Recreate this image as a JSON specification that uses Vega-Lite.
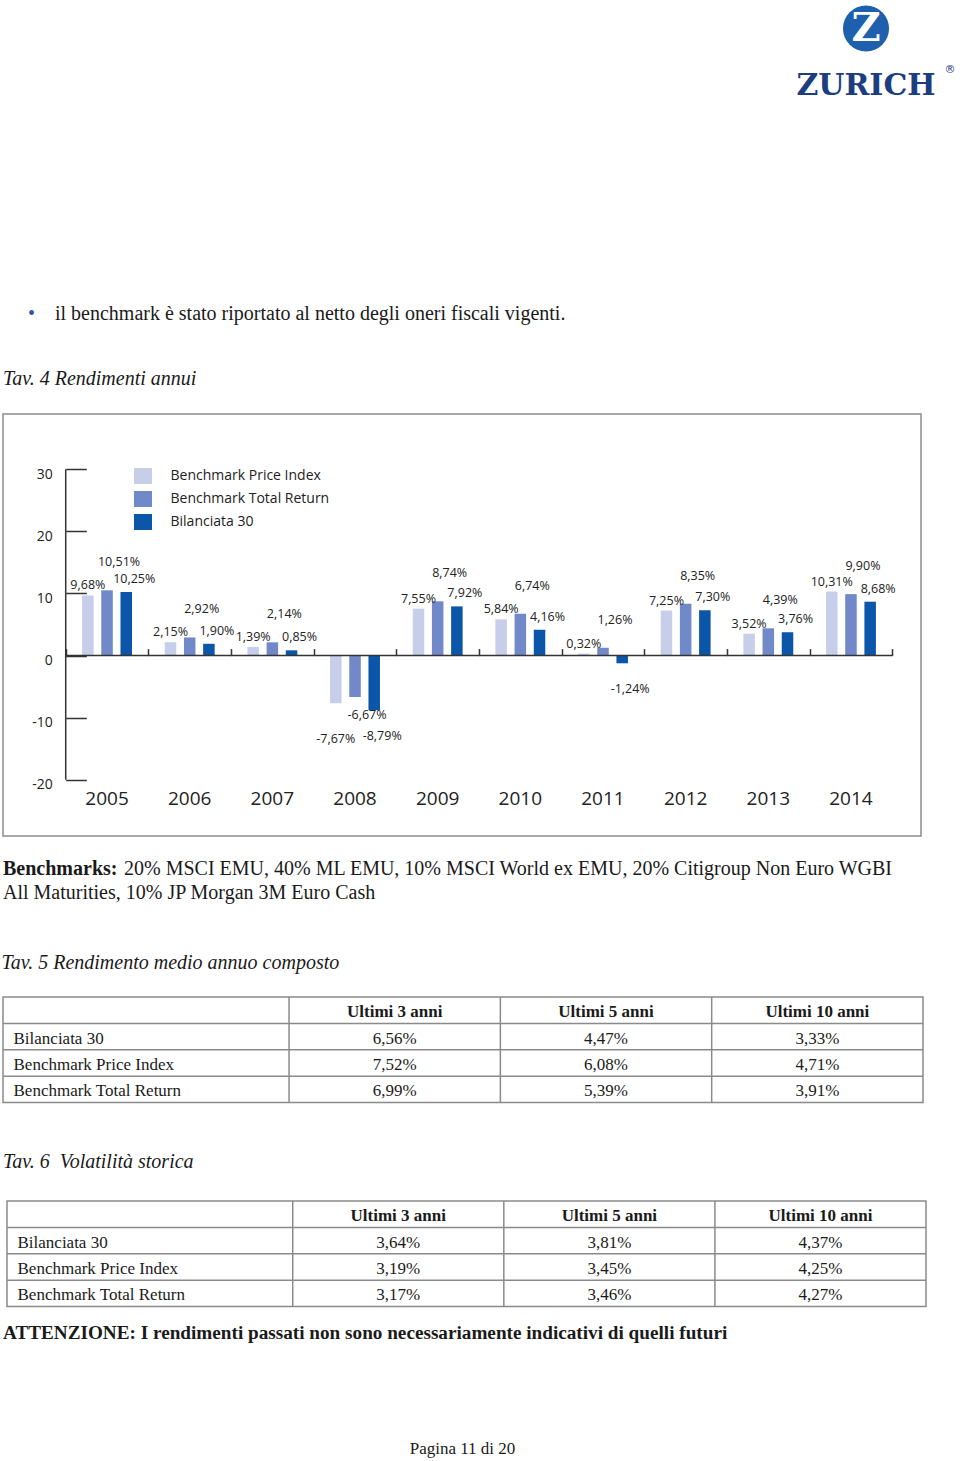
{
  "$schema": "https://vega.github.io/schema/vega-lite/v6.json",
  "background": "white",
  "padding": {"left": 1, "top": 0, "right": 0, "bottom": 0},
  "spacing": 0,
  "resolve": {"scale": {"color": "independent"}, "legend": {"color": "independent"}},
  "config": {
    "view": {"stroke": null},
    "font": "Liberation Serif",
    "title": {"font": "Liberation Serif", "fontSize": 20, "fontWeight": "normal", "color": "#1a1a1a", "anchor": "start", "offset": 0},
    "locale": {"number": {"decimal": ",", "thousands": ".", "grouping": [3], "currency": ["", "%"], "minus": "-"}},
    "concat": {"spacing": 0}
  },
  "datasets": {
    "annui": [
      {"anno": "2005", "serie": "Benchmark Price Index", "valore": 9.68},
      {"anno": "2005", "serie": "Benchmark Total Return", "valore": 10.51},
      {"anno": "2005", "serie": "Bilanciata 30", "valore": 10.25},
      {"anno": "2006", "serie": "Benchmark Price Index", "valore": 2.15},
      {"anno": "2006", "serie": "Benchmark Total Return", "valore": 2.92},
      {"anno": "2006", "serie": "Bilanciata 30", "valore": 1.90},
      {"anno": "2007", "serie": "Benchmark Price Index", "valore": 1.39},
      {"anno": "2007", "serie": "Benchmark Total Return", "valore": 2.14},
      {"anno": "2007", "serie": "Bilanciata 30", "valore": 0.85},
      {"anno": "2008", "serie": "Benchmark Price Index", "valore": -7.67},
      {"anno": "2008", "serie": "Benchmark Total Return", "valore": -6.67},
      {"anno": "2008", "serie": "Bilanciata 30", "valore": -8.79},
      {"anno": "2009", "serie": "Benchmark Price Index", "valore": 7.55},
      {"anno": "2009", "serie": "Benchmark Total Return", "valore": 8.74},
      {"anno": "2009", "serie": "Bilanciata 30", "valore": 7.92},
      {"anno": "2010", "serie": "Benchmark Price Index", "valore": 5.84},
      {"anno": "2010", "serie": "Benchmark Total Return", "valore": 6.74},
      {"anno": "2010", "serie": "Bilanciata 30", "valore": 4.16},
      {"anno": "2011", "serie": "Benchmark Price Index", "valore": 0.32},
      {"anno": "2011", "serie": "Benchmark Total Return", "valore": 1.26},
      {"anno": "2011", "serie": "Bilanciata 30", "valore": -1.24},
      {"anno": "2012", "serie": "Benchmark Price Index", "valore": 7.25},
      {"anno": "2012", "serie": "Benchmark Total Return", "valore": 8.35},
      {"anno": "2012", "serie": "Bilanciata 30", "valore": 7.30},
      {"anno": "2013", "serie": "Benchmark Price Index", "valore": 3.52},
      {"anno": "2013", "serie": "Benchmark Total Return", "valore": 4.39},
      {"anno": "2013", "serie": "Bilanciata 30", "valore": 3.76},
      {"anno": "2014", "serie": "Benchmark Price Index", "valore": 10.31},
      {"anno": "2014", "serie": "Benchmark Total Return", "valore": 9.90},
      {"anno": "2014", "serie": "Bilanciata 30", "valore": 8.68}
    ],
    "tav5": [
      {"fondo": "Bilanciata 30", "periodo": "Ultimi 3 anni", "valore": 6.56},
      {"fondo": "Bilanciata 30", "periodo": "Ultimi 5 anni", "valore": 4.47},
      {"fondo": "Bilanciata 30", "periodo": "Ultimi 10 anni", "valore": 3.33},
      {"fondo": "Benchmark Price Index", "periodo": "Ultimi 3 anni", "valore": 7.52},
      {"fondo": "Benchmark Price Index", "periodo": "Ultimi 5 anni", "valore": 6.08},
      {"fondo": "Benchmark Price Index", "periodo": "Ultimi 10 anni", "valore": 4.71},
      {"fondo": "Benchmark Total Return", "periodo": "Ultimi 3 anni", "valore": 6.99},
      {"fondo": "Benchmark Total Return", "periodo": "Ultimi 5 anni", "valore": 5.39},
      {"fondo": "Benchmark Total Return", "periodo": "Ultimi 10 anni", "valore": 3.91}
    ],
    "tav6": [
      {"fondo": "Bilanciata 30", "periodo": "Ultimi 3 anni", "valore": 3.64},
      {"fondo": "Bilanciata 30", "periodo": "Ultimi 5 anni", "valore": 3.81},
      {"fondo": "Bilanciata 30", "periodo": "Ultimi 10 anni", "valore": 4.37},
      {"fondo": "Benchmark Price Index", "periodo": "Ultimi 3 anni", "valore": 3.19},
      {"fondo": "Benchmark Price Index", "periodo": "Ultimi 5 anni", "valore": 3.45},
      {"fondo": "Benchmark Price Index", "periodo": "Ultimi 10 anni", "valore": 4.25},
      {"fondo": "Benchmark Total Return", "periodo": "Ultimi 3 anni", "valore": 3.17},
      {"fondo": "Benchmark Total Return", "periodo": "Ultimi 5 anni", "valore": 3.46},
      {"fondo": "Benchmark Total Return", "periodo": "Ultimi 10 anni", "valore": 4.27}
    ]
  },
  "vconcat": [
    {
      "hconcat": [
        {"width": 767, "height": 304, "data": {"values": []}, "mark": "point"},
        {
          "width": 192, "height": 114,
          "layer": [
            {"data": {"values": [{"parte": "emblema"}]}, "mark": {"type": "point", "shape": "circle", "filled": true, "size": 2124, "color": "#1e5fae", "opacity": 1},
             "encoding": {"y": {"field": "parte", "type": "nominal", "scale": {"type": "point", "domain": ["emblema", "marchio"], "padding": 0.5}, "axis": null}}},
            {"data": {"values": [{"parte": "emblema", "testo": "Z"}]}, "mark": {"type": "text", "font": "DejaVu Serif", "fontWeight": "bold", "fontSize": 40, "color": "white", "baseline": "middle"},
             "encoding": {"y": {"field": "parte", "type": "nominal", "scale": {"type": "point", "domain": ["emblema", "marchio"], "padding": 0.5}, "axis": null}, "text": {"field": "testo"}}},
            {"data": {"values": [{"parte": "marchio", "testo": "ZURICH"}]}, "mark": {"type": "text", "font": "DejaVu Serif", "fontWeight": "bold", "fontSize": 30, "color": "#1c3d7e", "baseline": "middle"},
             "encoding": {"y": {"field": "parte", "type": "nominal", "scale": {"type": "point", "domain": ["emblema", "marchio"], "padding": 0.5}, "axis": null}, "text": {"field": "testo"}}},
            {"data": {"values": [{"parte": "marchio", "testo": "®"}]}, "mark": {"type": "text", "font": "DejaVu Sans", "fontSize": 11, "color": "#1c3d7e", "baseline": "middle", "dx": 84, "dy": -16},
             "encoding": {"y": {"field": "parte", "type": "nominal", "scale": {"type": "point", "domain": ["emblema", "marchio"], "padding": 0.5}, "axis": null}, "text": {"field": "testo"}}}
          ]
        }
      ]
    },
    {
      "hconcat": [
        {"width": 32, "height": 43.5, "data": {"values": []}, "mark": "point", "title": {"text": "•", "anchor": "end", "color": "#2f54a6", "offset": 0}},
        {"width": 880, "height": 43.5, "data": {"values": []}, "mark": "point", "title": {"text": "il benchmark è stato riportato al netto degli oneri fiscali vigenti.", "anchor": "start", "offset": 0}}
      ],
      "spacing": 20
    },
    {
      "title": {"text": "Tav. 4 Rendimenti annui", "fontStyle": "italic", "offset": 25},
      "width": 918, "height": 422,
      "view": {"stroke": "#8c8c8c", "strokeWidth": 1.5},
      "data": {"name": "annui"},
      "resolve": {"axis": {"x": "independent"}},
      "layer": [
        {
          "mark": {"type": "bar"},
          "encoding": {
            "x": {"field": "anno", "type": "nominal", "scale": {"type": "band", "paddingInner": 0, "paddingOuter": 0.553, "align": 0.686},
                  "axis": {"orient": "bottom", "offset": -46.7, "domain": false, "ticks": false, "grid": false, "labelPadding": 0, "labelFont": "Open Sans", "labelFontSize": 19, "labelColor": "#222222", "labelAngle": 0, "title": null}},
            "xOffset": {"field": "serie", "type": "nominal", "scale": {"domain": ["Benchmark Price Index", "Benchmark Total Return", "Bilanciata 30"], "paddingInner": 0.4, "paddingOuter": 0.853}},
            "y": {"field": "valore", "type": "quantitative", "scale": {"domain": [-29.05, 38.9], "nice": false},
                  "axis": {"orient": "left", "offset": -62.7, "values": [-20, -10, 0, 10, 20, 30], "domain": false, "grid": false, "ticks": true, "tickSize": -20.6, "tickColor": "#333333", "tickWidth": 1.5, "labelPadding": 34, "labelOffset": 5, "labelFont": "Open Sans", "labelFontSize": 14, "labelColor": "#222222", "title": null}},
            "color": {"field": "serie", "type": "nominal",
                      "scale": {"domain": ["Benchmark Price Index", "Benchmark Total Return", "Bilanciata 30"], "range": ["#c6cee9", "#7189c9", "#0b56a8"]},
                      "legend": {"orient": "none", "legendX": 131, "legendY": 53, "title": null, "padding": 0, "symbolType": "M-1,-0.89H1V0.89H-1Z", "symbolSize": 324, "symbolStrokeWidth": 0, "symbolOpacity": 1, "labelOffset": 18.5, "rowPadding": 5, "labelFont": "Open Sans", "labelFontSize": 14, "labelColor": "#222222", "labelLimit": 300}}
          }
        },
        {
          "data": {"values": [{}]},
          "mark": {"type": "rule", "color": "#333333", "strokeWidth": 1.5},
          "encoding": {
            "x": {"datum": "2005", "type": "nominal", "bandPosition": 0, "axis": null},
            "y": {"datum": -20, "type": "quantitative",
                  "axis": {"orient": "left", "offset": -62.7, "values": [-20, -10, 0, 10, 20, 30], "domain": false, "grid": false, "ticks": true, "tickSize": -20.6, "tickColor": "#333333", "tickWidth": 1.5, "labelPadding": 34, "labelOffset": 5, "labelFont": "Open Sans", "labelFontSize": 14, "labelColor": "#222222", "title": null}},
            "y2": {"datum": 30}
          }
        },
        {
          "data": {"values": [{}]},
          "mark": {"type": "rule", "color": "#333333", "strokeWidth": 1.5},
          "encoding": {
            "x": {"datum": "2005", "type": "nominal", "bandPosition": 0,
                  "axis": {"orient": "top", "offset": -241.6, "domain": false, "labels": false, "ticks": true, "tickSize": 7, "tickBand": "extent", "tickColor": "#333333", "tickWidth": 1.5, "grid": false, "title": null}},
            "x2": {"datum": "2014", "bandPosition": 1},
            "y": {"datum": 0, "type": "quantitative",
                  "axis": {"orient": "left", "offset": -62.7, "values": [-20, -10, 0, 10, 20, 30], "domain": false, "grid": false, "ticks": true, "tickSize": -20.6, "tickColor": "#333333", "tickWidth": 1.5, "labelPadding": 34, "labelOffset": 5, "labelFont": "Open Sans", "labelFontSize": 14, "labelColor": "#222222", "title": null}}
          }
        },
        {
          "mark": {"type": "text", "font": "Open Sans", "fontSize": 12.5, "color": "#222222", "baseline": "middle",
                   "dx": {"expr": "datum.serie === 'Bilanciata 30' ? 8 : (datum.serie === 'Benchmark Total Return' ? 12 : 0)"},
                   "dy": {"expr": "datum.valore < 0 ? (datum.serie === 'Benchmark Price Index' ? 36 : (datum.serie === 'Benchmark Total Return' ? 18 : 26)) : (datum.serie === 'Benchmark Total Return' ? -28 : (datum.serie === 'Bilanciata 30' ? -13 : -10))"}},
          "encoding": {
            "x": {"field": "anno", "type": "nominal", "axis": null},
            "xOffset": {"field": "serie", "type": "nominal"},
            "y": {"field": "valore", "type": "quantitative",
                  "axis": {"orient": "left", "offset": -62.7, "values": [-20, -10, 0, 10, 20, 30], "domain": false, "grid": false, "ticks": true, "tickSize": -20.6, "tickColor": "#333333", "tickWidth": 1.5, "labelPadding": 34, "labelOffset": 5, "labelFont": "Open Sans", "labelFontSize": 14, "labelColor": "#222222", "title": null}},
            "text": {"field": "valore", "type": "quantitative", "format": "$.2f"}
          }
        }
      ]
    },
    {"width": 1, "height": 21.7, "data": {"values": []}, "mark": "point"},
    {
      "hconcat": [
        {"width": 121, "height": 4, "data": {"values": []}, "mark": "point", "title": {"text": "Benchmarks:", "fontWeight": "bold", "offset": 0}},
        {"width": 797, "height": 4, "data": {"values": []}, "mark": "point", "title": {"text": "20% MSCI EMU, 40% ML EMU, 10% MSCI World ex EMU, 20% Citigroup Non Euro WGBI", "offset": 0}}
      ]
    },
    {"width": 918, "height": 49.8, "data": {"values": []}, "mark": "point", "title": {"text": "All Maturities, 10% JP Morgan 3M Euro Cash", "offset": 0}},
    {
      "title": {"text": "Tav. 5 Rendimento medio annuo composto", "fontStyle": "italic", "offset": 22.2},
      "hconcat": [
        {
          "width": 920, "height": 105.6,
          "view": {"stroke": "#8a8a8a", "strokeWidth": 1.5},
          "data": {"name": "tav5"},
          "layer": [
            {
              "transform": [{"aggregate": [], "groupby": ["fondo"]}],
              "mark": {"type": "rule", "color": "#8a8a8a", "strokeWidth": 1.5},
              "encoding": {
                "y": {"field": "fondo", "type": "nominal", "bandPosition": 0,
                      "scale": {"type": "band", "domain": ["header", "Bilanciata 30", "Benchmark Price Index", "Benchmark Total Return"], "paddingInner": 0, "paddingOuter": 0},
                      "axis": {"orient": "left", "values": ["Bilanciata 30", "Benchmark Price Index", "Benchmark Total Return"], "labelAlign": "left", "labelPadding": -10, "ticks": false, "domain": false, "grid": false, "title": null, "labelFont": "Liberation Serif", "labelFontSize": 17, "labelColor": "#1a1a1a", "labelOffset": 2, "labelLimit": 400}}
              }
            },
            {
              "transform": [{"aggregate": [], "groupby": ["periodo"]}],
              "mark": {"type": "rule", "color": "#8a8a8a", "strokeWidth": 1.5},
              "encoding": {
                "x": {"field": "periodo", "type": "nominal", "bandPosition": 0,
                      "scale": {"type": "band", "domain": ["Ultimi 3 anni", "Ultimi 5 anni", "Ultimi 10 anni"], "paddingInner": 0, "paddingOuter": 0.6768, "align": 1}, "axis": null}
              }
            },
            {
              "transform": [{"aggregate": [], "groupby": ["periodo"]}],
              "mark": {"type": "text", "font": "Liberation Serif", "fontWeight": "bold", "fontSize": 17, "color": "#1a1a1a", "dy": 2},
              "encoding": {
                "x": {"field": "periodo", "type": "nominal", "axis": null},
                "y": {"datum": "header", "type": "nominal",
                      "axis": {"orient": "left", "values": ["Bilanciata 30", "Benchmark Price Index", "Benchmark Total Return"], "labelAlign": "left", "labelPadding": -10, "ticks": false, "domain": false, "grid": false, "title": null, "labelFont": "Liberation Serif", "labelFontSize": 17, "labelColor": "#1a1a1a", "labelOffset": 2, "labelLimit": 400}},
                "text": {"field": "periodo"}
              }
            },
            {
              "mark": {"type": "text", "font": "Liberation Serif", "fontSize": 17, "color": "#1a1a1a", "dy": 2},
              "encoding": {
                "x": {"field": "periodo", "type": "nominal", "axis": null},
                "y": {"field": "fondo", "type": "nominal",
                      "axis": {"orient": "left", "values": ["Bilanciata 30", "Benchmark Price Index", "Benchmark Total Return"], "labelAlign": "left", "labelPadding": -10, "ticks": false, "domain": false, "grid": false, "title": null, "labelFont": "Liberation Serif", "labelFontSize": 17, "labelColor": "#1a1a1a", "labelOffset": 2, "labelLimit": 400}},
                "text": {"field": "valore", "type": "quantitative", "format": "$.2f"}
              }
            }
          ]
        }
      ]
    },
    {"width": 1, "height": 45.6, "data": {"values": []}, "mark": "point"},
    {
      "title": {"text": "Tav. 6\u00a0 Volatilità storica", "fontStyle": "italic", "offset": 27.8},
      "hconcat": [
        {"width": 2, "height": 105.6, "data": {"values": []}, "mark": "point"},
        {
          "width": 919, "height": 105.6,
          "view": {"stroke": "#8a8a8a", "strokeWidth": 1.5},
          "data": {"name": "tav6"},
          "layer": [
            {
              "transform": [{"aggregate": [], "groupby": ["fondo"]}],
              "mark": {"type": "rule", "color": "#8a8a8a", "strokeWidth": 1.5},
              "encoding": {
                "y": {"field": "fondo", "type": "nominal", "bandPosition": 0,
                      "scale": {"type": "band", "domain": ["header", "Bilanciata 30", "Benchmark Price Index", "Benchmark Total Return"], "paddingInner": 0, "paddingOuter": 0},
                      "axis": {"orient": "left", "values": ["Bilanciata 30", "Benchmark Price Index", "Benchmark Total Return"], "labelAlign": "left", "labelPadding": -10, "ticks": false, "domain": false, "grid": false, "title": null, "labelFont": "Liberation Serif", "labelFontSize": 17, "labelColor": "#1a1a1a", "labelOffset": 2, "labelLimit": 400}}
              }
            },
            {
              "transform": [{"aggregate": [], "groupby": ["periodo"]}],
              "mark": {"type": "rule", "color": "#8a8a8a", "strokeWidth": 1.5},
              "encoding": {
                "x": {"field": "periodo", "type": "nominal", "bandPosition": 0,
                      "scale": {"type": "band", "domain": ["Ultimi 3 anni", "Ultimi 5 anni", "Ultimi 10 anni"], "paddingInner": 0, "paddingOuter": 0.6768, "align": 1}, "axis": null}
              }
            },
            {
              "transform": [{"aggregate": [], "groupby": ["periodo"]}],
              "mark": {"type": "text", "font": "Liberation Serif", "fontWeight": "bold", "fontSize": 17, "color": "#1a1a1a", "dy": 2},
              "encoding": {
                "x": {"field": "periodo", "type": "nominal", "axis": null},
                "y": {"datum": "header", "type": "nominal",
                      "axis": {"orient": "left", "values": ["Bilanciata 30", "Benchmark Price Index", "Benchmark Total Return"], "labelAlign": "left", "labelPadding": -10, "ticks": false, "domain": false, "grid": false, "title": null, "labelFont": "Liberation Serif", "labelFontSize": 17, "labelColor": "#1a1a1a", "labelOffset": 2, "labelLimit": 400}},
                "text": {"field": "periodo"}
              }
            },
            {
              "mark": {"type": "text", "font": "Liberation Serif", "fontSize": 17, "color": "#1a1a1a", "dy": 2},
              "encoding": {
                "x": {"field": "periodo", "type": "nominal", "axis": null},
                "y": {"field": "fondo", "type": "nominal",
                      "axis": {"orient": "left", "values": ["Bilanciata 30", "Benchmark Price Index", "Benchmark Total Return"], "labelAlign": "left", "labelPadding": -10, "ticks": false, "domain": false, "grid": false, "title": null, "labelFont": "Liberation Serif", "labelFontSize": 17, "labelColor": "#1a1a1a", "labelOffset": 2, "labelLimit": 400}},
                "text": {"field": "valore", "type": "quantitative", "format": "$.2f"}
              }
            }
          ]
        }
      ]
    },
    {"width": 1, "height": 13.9, "data": {"values": []}, "mark": "point"},
    {
      "width": 900, "height": 96.7, "data": {"values": []}, "mark": "point",
      "title": {"text": "ATTENZIONE: I rendimenti passati non sono necessariamente indicativi di quelli futuri", "fontWeight": "bold", "fontSize": 19.2, "offset": 0}
    },
    {
      "width": 919, "height": 1, "data": {"values": []}, "mark": "point",
      "title": {"text": "Pagina 11 di 20", "anchor": "middle", "fontSize": 17, "offset": 0}
    }
  ]
}
